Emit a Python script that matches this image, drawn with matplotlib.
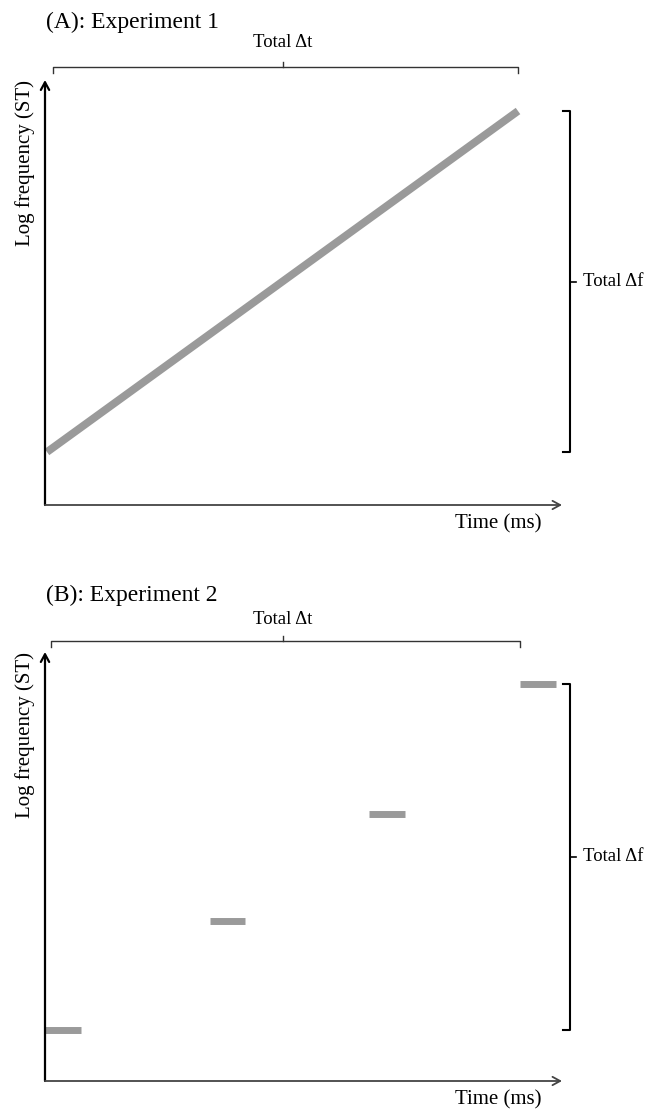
import matplotlib
matplotlib.use('Agg')
import matplotlib.pyplot as plt
import matplotlib.transforms as mtransforms

plt.rcParams['font.family'] = ['Liberation Serif', 'DejaVu Serif']

# ---------------- data (normalised units) ----------------
exp1_time = [0.0, 1.0]          # glide start / end (fraction of total Δt)
exp1_freq = [0.0, 1.0]          # glide start / end (fraction of total Δf)
exp2_onsets = [0.0, 0.347, 0.682, 1.0]
exp2_freqs = [0.0, 0.314, 0.624, 1.0]
exp2_duration = 0.075

titles = ['(A): Experiment 1', '(B): Experiment 2']
xlabel = 'Time (ms)'
ylabel = 'Log frequency (ST)'
dt_label = 'Total Δt'
df_label = 'Total Δf'

W, H = 659, 1109
fig = plt.figure(figsize=(W / 100, H / 100), dpi=100)

GRAY = '#9a9a9a'


def make_axes(top_px, bottom_px, left_px=45, right_px=562):
    return fig.add_axes([left_px / W, 1 - bottom_px / H,
                         (right_px - left_px) / W, (bottom_px - top_px) / H])


def decorate(ax, tmin, tmax, fmin, fmax, h_px, w_px,
             bracket_y, dt_text_off):
    ax.set_axis_off()
    # axes arrows
    ax.annotate('', xy=(0, 1), xytext=(0, 0), xycoords='axes fraction',
                arrowprops=dict(arrowstyle='->,head_length=0.55,head_width=0.3',
                                color='black', lw=1.6, shrinkA=0, shrinkB=0))
    ax.annotate('', xy=(1, 0), xytext=(0, 0), xycoords='axes fraction',
                arrowprops=dict(arrowstyle='->,head_length=0.55,head_width=0.3',
                                color='#444444', lw=1.3, shrinkA=0, shrinkB=0))
    # labels
    ax.text(0.961, -19 / h_px, xlabel, transform=ax.transAxes,
            ha='right', va='center', fontsize=15)
    ax.text(-20 / w_px, 1.0, ylabel, transform=ax.transAxes, rotation=90,
            ha='center', va='top', fontsize=15)
    # top bracket (total Δt)
    tr = mtransforms.blended_transform_factory(ax.transData, ax.transAxes)
    hook = 6 / h_px
    t0 = tmin + 0.012
    ax.plot([t0, t0, tmax, tmax], [bracket_y - hook, bracket_y, bracket_y, bracket_y - hook],
            transform=tr, color='#333333', lw=1.0, clip_on=False,
            solid_joinstyle='round')
    tm = (tmin + tmax) / 2
    ax.plot([tm, tm], [bracket_y, bracket_y + 5 / h_px], transform=tr,
            color='#333333', lw=1.0, clip_on=False)
    ax.text(tm, bracket_y + dt_text_off / h_px, dt_label, transform=tr,
            ha='center', va='center', fontsize=13.5)
    # right bracket (total Δf)
    tr2 = mtransforms.blended_transform_factory(ax.transAxes, ax.transData)
    bx = (570 - 45) / w_px
    hk = 7 / w_px
    ax.plot([bx - hk, bx, bx, bx - hk], [fmax, fmax, fmin, fmin], transform=tr2,
            color='black', lw=1.5, clip_on=False)
    fm = (fmin + fmax) / 2
    ax.plot([bx, bx + 6 / w_px], [fm, fm], transform=tr2, color='black',
            lw=1.2, clip_on=False)
    ax.text((583 - 45) / w_px, fm, df_label, transform=tr2,
            ha='left', va='center', fontsize=13.5)


# ---------------- panel A ----------------
axA = make_axes(80, 505)
axA.set_xlim(-2 / 471, 515 / 471)
axA.set_ylim(-53 / 341, (425 - 53) / 341)
axA.plot(exp1_time, exp1_freq, color=GRAY, lw=5.6, solid_capstyle='butt',
         clip_on=False)
decorate(axA, min(exp1_time), max(exp1_time), min(exp1_freq), max(exp1_freq),
         425, 517, (505 - 66.5) / 425, 24)
fig.text(46 / W, 1 - 22 / H, titles[0], ha='left', va='center', fontsize=17)

# ---------------- panel B ----------------
axB = make_axes(652, 1081)
axB.set_xlim(0, 517 / 475)
axB.set_ylim(-51.5 / 345.5, (429 - 51.5) / 345.5)
for t, f in zip(exp2_onsets, exp2_freqs):
    axB.plot([t, t + exp2_duration], [f, f], color=GRAY, lw=5.0,
             solid_capstyle='butt', clip_on=False)
decorate(axB, min(exp2_onsets), max(exp2_onsets), min(exp2_freqs), max(exp2_freqs),
         429, 517, (1081 - 641) / 429, 21)
fig.text(46 / W, 1 - 595 / H, titles[1], ha='left', va='center', fontsize=17)

fig.savefig('out.png', dpi=100)
